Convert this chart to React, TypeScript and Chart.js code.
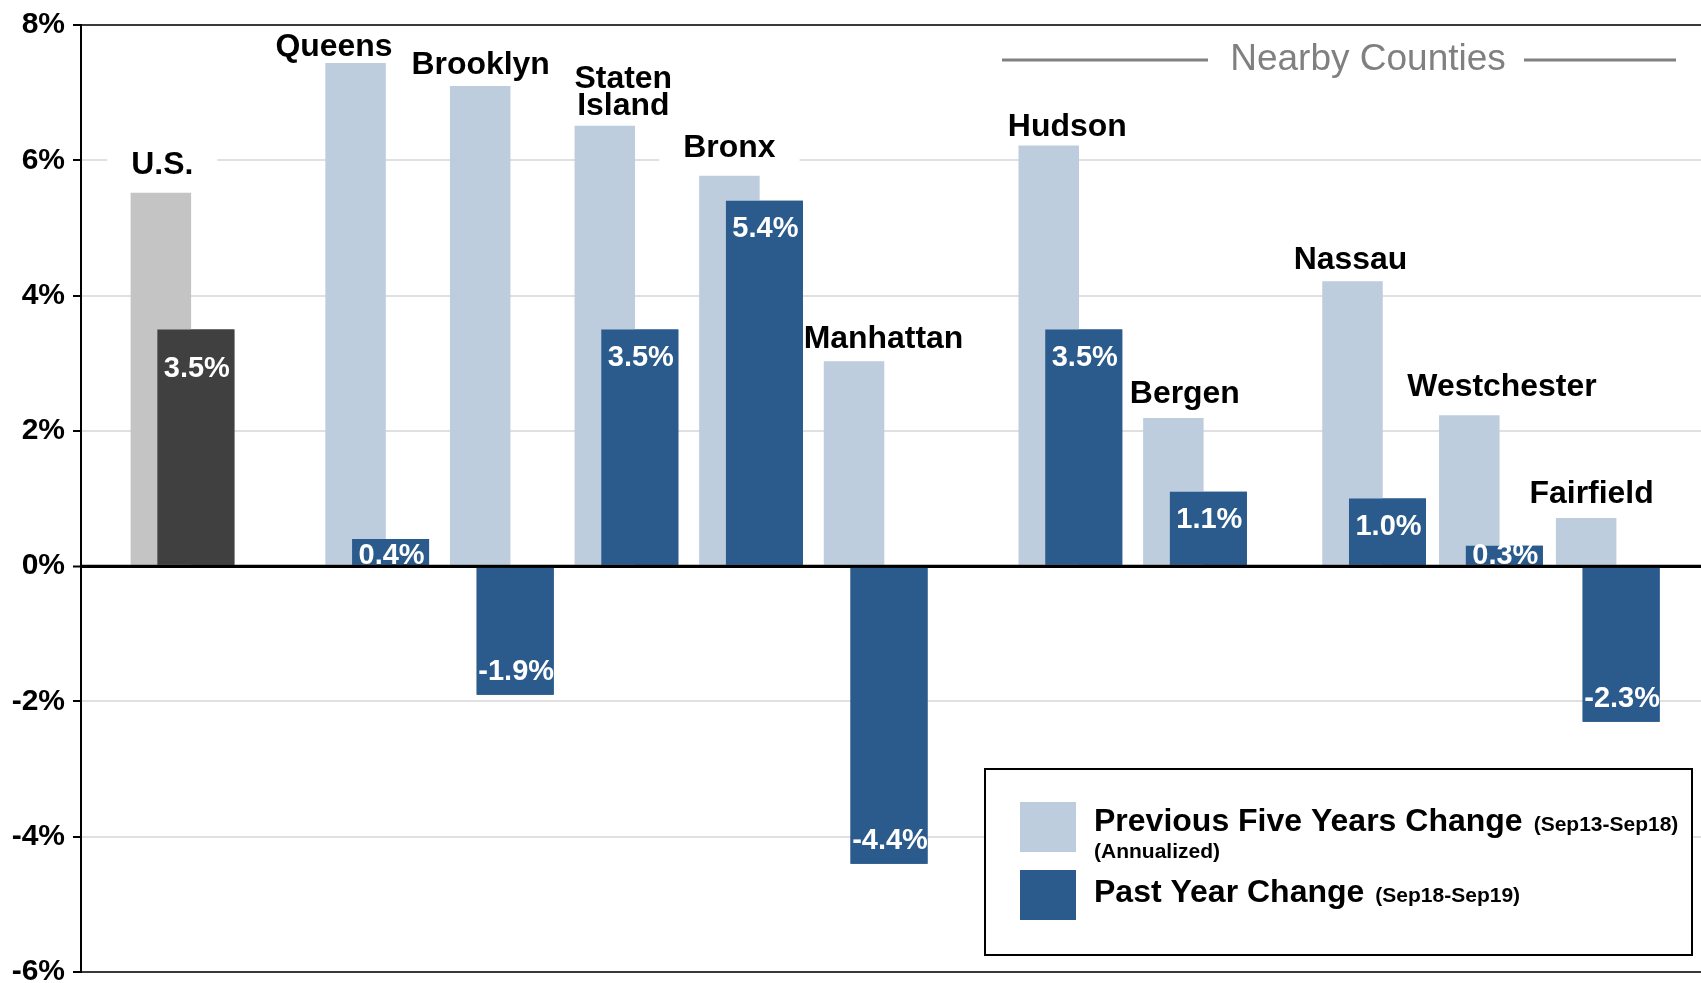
import React, { useEffect, useRef } from 'react';
import { Chart, registerables } from 'chart.js';

Chart.register(...registerables);

// ---------- data ----------
const CATEGORIES = ['U.S.', 'Queens', 'Brooklyn', 'Staten\nIsland', 'Bronx', 'Manhattan', 'Hudson', 'Bergen', 'Nassau', 'Westchester', 'Fairfield'];
const FIVE_YEAR = [5.52, 7.44, 7.1, 6.51, 5.77, 3.03, 6.22, 2.19, 4.21, 2.23, 0.71];
const PAST_YEAR = [3.5, 0.4, -1.9, 3.5, 5.4, -4.4, 3.5, 1.1, 1.0, 0.3, -2.3];
const Y_TICKS = [-6, -4, -2, 0, 2, 4, 6, 8];
const LEGEND_LABELS = ['Previous Five Years Change', 'Past Year Change'];
const LEGEND_NOTES = ['(Sep13-Sep18)', '(Sep18-Sep19)'];
const LEGEND_SUB = '(Annualized)';
const GROUP_TITLE = 'Nearby Counties';

// ---------- layout (not data) ----------
const TOTAL_SLOTS = 208;
const GROUP_SLOT = [12, 37, 53, 69, 85, 101, 126, 142, 165, 180, 195];
const LABEL_DX = [1.5, -21.5, 0.5, 18.5, 0, 29.5, 18.5, 11.5, -2, 32.7, 5.5];
const LABEL_GAP = [19, 7, 12, 11, 19, 13, 9, 15, 12.5, 19, 15];
const VALUE_DY = [11, 0, 0, 0, 0, 0, 0, 0, 0, 0, 0];
const LABEL_STRETCH = 1.03;

const FONT = '"Liberation Sans", Arial, Helvetica, sans-serif';
const LIGHT = '#bdcdde';
const DARK = '#2a5b8c';
const US_LIGHT = '#c4c4c4';
const US_DARK = '#404040';

const slotLabels: string[] = Array.from({ length: TOTAL_SLOTS }, () => '');
GROUP_SLOT.forEach((s, i) => { slotLabels[s] = CATEGORIES[i].replace('\n', ' '); });
function toSlots(vals: number[]): (number | null)[] {
  const arr: (number | null)[] = Array.from({ length: TOTAL_SLOTS }, () => null);
  GROUP_SLOT.forEach((s, i) => { arr[s] = vals[i]; });
  return arr;
}
const US_SLOT = GROUP_SLOT[0];

const overlay = {
  id: 'overlay',
  beforeDatasetsDraw(chart: any) {
    const ctx = chart.ctx;
    const meta = chart.getDatasetMeta(0);
    ctx.save();
    ctx.font = `bold 31px ${FONT}`;
    CATEGORIES.forEach((name, i) => {
      const el = meta.data[GROUP_SLOT[i]];
      const lines = name.split('\n');
      const w = LABEL_STRETCH * Math.max(...lines.map((l) => ctx.measureText(l).width));
      const cx = el.x + LABEL_DX[i];
      const base = el.y - LABEL_GAP[i];
      const top = base - 22 - (lines.length - 1) * 27;
      ctx.fillStyle = '#fff';
      ctx.fillRect(cx - w / 2 - 24, top - 5, w + 48, base - top + 10);
    });
    ctx.restore();
  },
  afterDatasetsDraw(chart: any) {
    const ctx = chart.ctx;
    // past-year bars sit in front of the five-year bars
    chart.getDatasetMeta(1).controller.draw();
    const ca = chart.chartArea;
    const zy = chart.scales.y.getPixelForValue(0);
    ctx.save();
    ctx.strokeStyle = '#000';
    ctx.lineWidth = 3;
    ctx.beginPath();
    ctx.moveTo(ca.left, zy);
    ctx.lineTo(ca.right, zy);
    ctx.stroke();

    // category names
    const lm = chart.getDatasetMeta(0);
    ctx.font = `bold 31px ${FONT}`;
    ctx.fillStyle = '#000';
    ctx.textAlign = 'center';
    ctx.textBaseline = 'alphabetic';
    CATEGORIES.forEach((name, i) => {
      const el = lm.data[GROUP_SLOT[i]];
      const lines = name.split('\n');
      const cx = el.x + LABEL_DX[i];
      const base = el.y - LABEL_GAP[i];
      ctx.save();
      ctx.translate(cx, base);
      ctx.scale(LABEL_STRETCH, 1);
      lines.forEach((l, k) => {
        ctx.fillText(l, 0, -(lines.length - 1 - k) * 27);
      });
      ctx.restore();
    });

    // value labels
    const dm = chart.getDatasetMeta(1);
    ctx.font = `bold 29px ${FONT}`;
    ctx.fillStyle = '#fff';
    PAST_YEAR.forEach((v, i) => {
      const el = dm.data[GROUP_SLOT[i]];
      let cy: number;
      if (v >= 0) cy = Math.min(el.y + 26, el.base - 11);
      else cy = el.y - 25;
      ctx.fillText(`${v.toFixed(1)}%`, el.x + 1, cy + 10.4 + VALUE_DY[i]);
    });
    ctx.restore();
  },
  afterDraw(chart: any) {
    const ctx = chart.ctx;
    ctx.save();
    // Nearby Counties header
    ctx.strokeStyle = '#808080';
    ctx.lineWidth = 3;
    ctx.beginPath();
    ctx.moveTo(1002, 60); ctx.lineTo(1208, 60);
    ctx.moveTo(1524, 60); ctx.lineTo(1676, 60);
    ctx.stroke();
    ctx.fillStyle = '#808080';
    ctx.font = `37px ${FONT}`;
    ctx.textAlign = 'center';
    ctx.textBaseline = 'alphabetic';
    ctx.fillText(GROUP_TITLE, 1368, 70);

    // legend box
    ctx.fillStyle = '#fff';
    ctx.fillRect(985, 769, 707, 186);
    ctx.strokeStyle = '#000';
    ctx.lineWidth = 2;
    ctx.strokeRect(985, 769, 707, 186);
    ctx.fillStyle = LIGHT;
    ctx.fillRect(1020, 802, 56, 50);
    ctx.fillStyle = DARK;
    ctx.fillRect(1020, 870, 56, 50);

    ctx.fillStyle = '#000';
    ctx.textAlign = 'left';
    const rows = [831, 902];
    LEGEND_LABELS.forEach((lab, i) => {
      ctx.font = `bold 32px ${FONT}`;
      ctx.fillText(lab, 1094, rows[i]);
      const w = ctx.measureText(lab).width;
      ctx.font = `bold 21px ${FONT}`;
      ctx.fillText(LEGEND_NOTES[i], 1094 + w + 11, rows[i]);
    });
    ctx.font = `bold 21px ${FONT}`;
    ctx.fillText(LEGEND_SUB, 1094, 858);
    ctx.restore();
  },
};

export default function App() {
  const ref = useRef<HTMLCanvasElement | null>(null);
  useEffect(() => {
    document.body.style.margin = '0';
    const canvas = ref.current;
    if (!canvas) return;
    const slotW = 1620 / TOTAL_SLOTS;
    const chunk = 35;
    const catPct = (2 * chunk) / slotW;
    const chart = new Chart(canvas, {
      type: 'bar',
      data: {
        labels: slotLabels,
        datasets: [
          {
            label: LEGEND_LABELS[0],
            data: toSlots(FIVE_YEAR),
            backgroundColor: (c: any) => (c.dataIndex === US_SLOT ? US_LIGHT : LIGHT),
            borderWidth: 0,
            categoryPercentage: catPct,
            barPercentage: 60.5 / chunk,
          },
          {
            label: LEGEND_LABELS[1],
            data: toSlots(PAST_YEAR),
            backgroundColor: (c: any) => (c.dataIndex === US_SLOT ? US_DARK : DARK),
            borderWidth: 0,
            categoryPercentage: catPct,
            barPercentage: 77 / chunk,
          },
        ],
      },
      options: {
        responsive: false,
        animation: false,
        devicePixelRatio: 1,
        layout: { padding: { top: 25, bottom: 11, left: 0, right: 0 } },
        plugins: { legend: { display: false }, tooltip: { enabled: false } },
        scales: {
          x: { display: false, offset: true },
          y: {
            min: -6,
            max: 8,
            afterBuildTicks: (s: any) => { s.ticks = Y_TICKS.map((v) => ({ value: v })); },
            afterFit: (s: any) => { s.width = 81; s.paddingTop = 0; s.paddingBottom = 0; },
            grid: {
              color: (c: any) => {
                const v = c.tick ? c.tick.value : null;
                if (v === 0) return '#000';
                if (v === 8 || v === -6) return '#3a3a3a';
                return '#e0e0e0';
              },
              lineWidth: (c: any) => {
                const v = c.tick ? c.tick.value : null;
                if (v === 0) return 3;
                return 2;
              },
              tickLength: 8,
              tickColor: '#000',
              tickWidth: 2,
              drawTicks: true,
            },
            border: { color: '#000', width: 2 },
            ticks: {
              color: '#000',
              padding: 8,
              autoSkip: false,
              font: { family: FONT, size: 30, weight: 'bold' },
              callback: (v: any) => `${v}%`,
            },
          },
        },
      },
      plugins: [overlay],
    } as any);
    return () => chart.destroy();
  }, []);
  return (
    <div style={{ position: 'absolute', left: 0, top: 0, width: 1701, height: 983, background: '#fff' }}>
      <canvas ref={ref} width={1701} height={983} style={{ display: 'block' }} />
    </div>
  );
}
